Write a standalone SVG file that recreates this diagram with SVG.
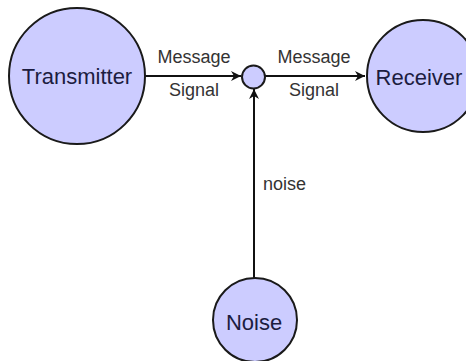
<svg xmlns="http://www.w3.org/2000/svg" width="466" height="361" viewBox="0 0 466 361">
<defs>
<style>
.node{fill:#ccccff;stroke:#1a1a1a;stroke-width:2}
.nl{font-family:"Liberation Sans",Arial,sans-serif;font-size:22px;fill:#1c1c40;text-anchor:middle}
.el{font-family:"Liberation Sans",Arial,sans-serif;font-size:18px;fill:#333;text-anchor:middle}
.conn{stroke:#111;stroke-width:2;fill:none;marker-end:url(#ah)}
</style>
<marker id="ah" viewBox="0 0 10 10" refX="10" refY="5" markerWidth="5" markerHeight="5" markerUnits="strokeWidth" orient="auto">
<path d="M0,0 L10,5 L0,10 L3,5 Z" fill="#111"/>
</marker>
</defs>
<rect width="466" height="361" fill="#fff"/>
<g id="connectors">
<line class="conn" x1="145" y1="76" x2="241" y2="76"/>
<line class="conn" x1="265" y1="76" x2="365" y2="76"/>
<line class="conn" x1="254" y1="278" x2="254" y2="89"/>
<text class="el" x="194" y="63">Message</text>
<text class="el" x="194" y="96">Signal</text>
<text class="el" x="314" y="63">Message</text>
<text class="el" x="314" y="96">Signal</text>
<text class="el" x="263" y="190" text-anchor="start" style="text-anchor:start">noise</text>
</g>
<g id="transmitter">
<circle class="node" cx="77" cy="76" r="68"/>
<text class="nl" x="77" y="84">Transmitter</text>
</g>
<g id="junction">
<circle class="node" cx="253.5" cy="77" r="11.5"/>
</g>
<g id="receiver">
<circle class="node" cx="423" cy="76" r="56"/>
<text class="nl" x="419" y="85">Receiver</text>
</g>
<g id="noise">
<circle class="node" cx="255" cy="320" r="42"/>
<text class="nl" x="254" y="330">Noise</text>
</g>
</svg>
